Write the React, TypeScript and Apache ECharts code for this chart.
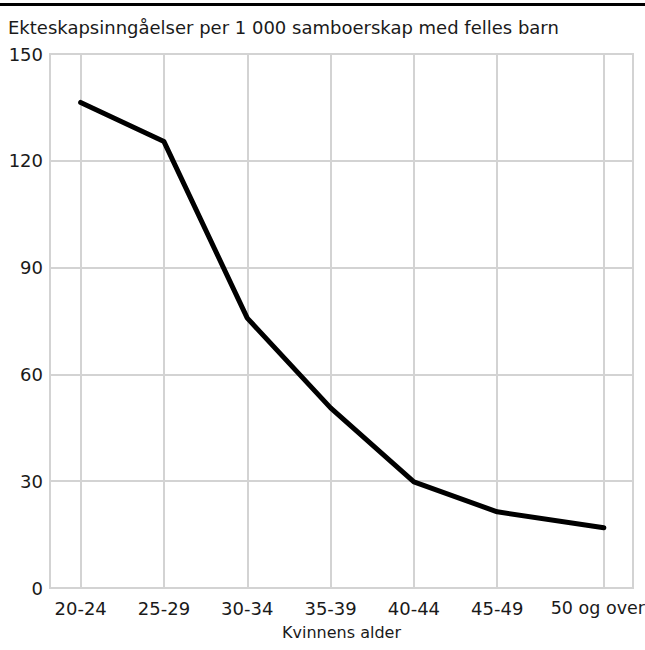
import React, { useEffect, useRef } from "react";
import * as echarts from "echarts";

const categories = ["20-24", "25-29", "30-34", "35-39", "40-44", "45-49", "50 og over"];
const xPositions = [0, 1, 2, 3, 4, 5, 6.28];
const values = [136.4, 125.4, 75.8, 50.6, 29.8, 21.4, 16.9];
const yTicks = [0, 30, 60, 90, 120, 150];
const titleText = "Ekteskapsinngåelser per 1 000 samboerskap med felles barn";
const xName = "Kvinnens alder";

const FONT = "'DejaVu Sans', 'Noto Sans', sans-serif";
const GRID_COLOR = "#d3d3d3";
const TEXT_COLOR = "#1a1a1a";

export default function App() {
  const ref = useRef<HTMLDivElement>(null);
  useEffect(() => {
    if (!ref.current) return;
    const chart = echarts.init(ref.current, undefined, { renderer: "svg" });
    chart.setOption({
      animation: false,
      backgroundColor: "#ffffff",
      textStyle: { fontFamily: FONT },
      title: {
        text: titleText,
        left: 3,
        top: 13,
        textStyle: { fontFamily: FONT, fontSize: 18, fontWeight: "normal", color: TEXT_COLOR },
      },
      graphic: [
        {
          type: "line",
          shape: { x1: 0, y1: 4.5, x2: 645, y2: 4.5 },
          style: { stroke: "#000000", lineWidth: 3 },
        },
      ],
      grid: {
        left: 50,
        right: 12,
        top: 54,
        bottom: 62,
        show: true,
        borderColor: GRID_COLOR,
        borderWidth: 2,
        containLabel: false,
        outerBoundsMode: "none",
      },
      xAxis: {
        type: "value",
        min: -0.368,
        max: 6.63,
        name: xName,
        nameLocation: "middle",
        nameGap: 36,
        nameTextStyle: { fontFamily: FONT, fontSize: 16, color: TEXT_COLOR },
        axisLine: { show: true, lineStyle: { color: GRID_COLOR, width: 2 } },
        axisTick: { show: false, customValues: xPositions },
        axisLabel: {
          customValues: xPositions,
          fontFamily: FONT,
          fontSize: 18,
          color: TEXT_COLOR,
          margin: 11,
          hideOverlap: false,
          rich: {
            last: {
              fontFamily: FONT,
              fontSize: 17.5,
              color: TEXT_COLOR,
              padding: [0, 12, 0, 0],
            },
          },
          formatter: (v: number) => {
            const i = xPositions.findIndex((p) => Math.abs(p - v) < 1e-6);
            if (i < 0) return "";
            return i === categories.length - 1 ? `{last|${categories[i]}}` : categories[i];
          },
        },
        splitLine: { show: true, lineStyle: { color: GRID_COLOR, width: 2 } },
      },
      yAxis: {
        type: "value",
        min: 0,
        max: 150,
        interval: 30,
        axisLine: { show: true, lineStyle: { color: GRID_COLOR, width: 2 } },
        axisTick: { show: false },
        axisLabel: {
          fontFamily: FONT,
          fontSize: 18,
          color: TEXT_COLOR,
          margin: 7,
          formatter: (v: number) => (yTicks.includes(v) ? String(v) : ""),
        },
        splitLine: { show: true, lineStyle: { color: GRID_COLOR, width: 2 } },
      },
      series: [
        {
          type: "line",
          data: values.map((v, i) => [xPositions[i], v]),
          symbol: "none",
          lineStyle: { color: "#000000", width: 5, cap: "round", join: "round" },
        },
      ],
    });
    return () => chart.dispose();
  }, []);
  return (
    <div
      ref={ref}
      style={{ position: "fixed", left: 0, top: 0, width: 645, height: 650 }}
    />
  );
}
